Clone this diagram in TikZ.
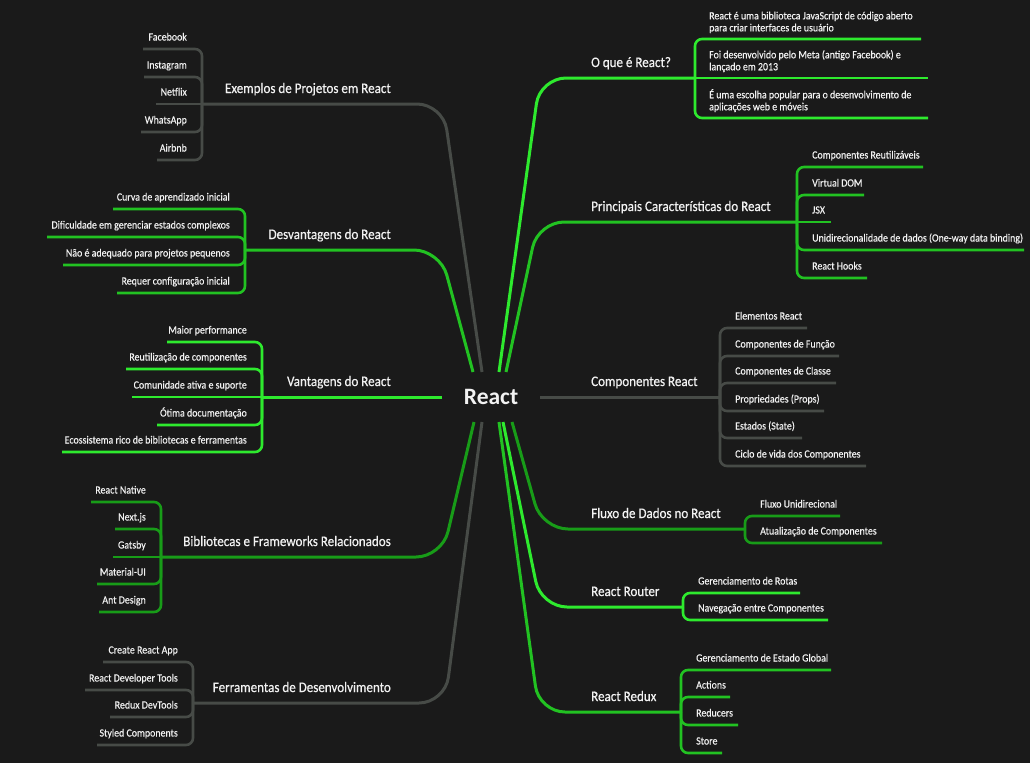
\documentclass[tikz,border=0pt]{standalone}
\usepackage{fontspec}
\setmainfont{Carlito}
\newfontfamily\leaffont[FakeStretch=0.9,FakeBold=0.4]{Carlito}
\newfontfamily\brfont[FakeStretch=0.9,FakeBold=0.5]{Carlito}
\definecolor{bg}{HTML}{1A1A1A}
\definecolor{gbright}{HTML}{2EEA2E}
\definecolor{gmed}{HTML}{22C222}
\definecolor{gdark}{HTML}{189C18}
\definecolor{gline}{HTML}{474B47}
\definecolor{txt}{HTML}{F2F2F2}
\tikzset{
  leaf/.style={text=txt, font=\leaffont\fontsize{11}{12}\selectfont, inner sep=0pt},
  branchtext/.style={text=txt, font=\brfont\fontsize{14.5}{16}\selectfont, inner sep=0pt},
  roottext/.style={text=txt, font=\bfseries\fontsize{23.5}{26}\selectfont, inner sep=0pt},
  mainedge/.style={line width=3pt, rounded corners=26pt},
  leafedge/.style={line width=2.6pt, rounded corners=7pt},
}
% #1 colour, #2 bracket name, #3 bx, #4 by, #5 leaf name, #6 uy, #7 end x, #8 text
\newcommand\RLeaf[8]{%
  \node[leaf,anchor=base west] (#5) at (#3+15,#6-8.5) {#8};
  \coordinate (#5-end) at (#7,#6);
  \ifdim #4pt=#6pt \draw[leafedge,#1] (#2) -- (#5-end);
  \else \draw[leafedge,#1] (#2) |- (#5-end); \fi
}
\newcommand\LLeaf[8]{%
  \node[leaf,anchor=base east] (#5) at (#3-15,#6-8.5) {#8};
  \coordinate (#5-end) at (#7,#6);
  \ifdim #4pt=#6pt \draw[leafedge,#1] (#2) -- (#5-end);
  \else \draw[leafedge,#1] (#2) |- (#5-end); \fi
}
\begin{document}
\begin{tikzpicture}[x=1pt,y=-1pt]
\fill[bg] (0,0) rectangle (1030,763);
\useasboundingbox (0,0) rectangle (1030,763);

\node[roottext] (root) at (491,397) {React};

% ---- main branch coordinates
\coordinate (sA) at (499,372); \coordinate (vA) at (540,78);  \coordinate (bA) at (695,78);
\coordinate (sB) at (506,372); \coordinate (vB) at (538,222); \coordinate (bB) at (797,222);
\coordinate (sC) at (540,397); \coordinate (bC) at (720,397);
\coordinate (sD) at (512,422); \coordinate (vD) at (542,529); \coordinate (bD) at (745,529);
\coordinate (sE) at (503,422); \coordinate (vE) at (541,607); \coordinate (bE) at (683,607);
\coordinate (sF) at (499,422); \coordinate (vF) at (539,712); \coordinate (bF) at (681,712);
\coordinate (sG) at (482,372); \coordinate (vG) at (443,104); \coordinate (bG) at (202,104);
\coordinate (sH) at (473,372); \coordinate (vH) at (440,250); \coordinate (bH) at (245,250);
\coordinate (sI) at (442,397); \coordinate (bI) at (262,397);
\coordinate (sJ) at (474,422); \coordinate (vJ) at (442,557); \coordinate (bJ) at (161,557);
\coordinate (sK) at (482,422); \coordinate (vK) at (445,703); \coordinate (bK) at (193,703);

\draw[mainedge,gbright] (sA) -- (vA) -- (bA);
\draw[mainedge,gmed]    (sB) -- (vB) -- (bB);
\draw[mainedge,gline]   (sC) -- (bC);
\draw[mainedge,gdark]   (sD) -- (vD) -- (bD);
\draw[mainedge,gbright] (sE) -- (vE) -- (bE);
\draw[mainedge,gmed]    (sF) -- (vF) -- (bF);
\draw[mainedge,gline]   (sG) -- (vG) -- (bG);
\draw[mainedge,gmed]    (sH) -- (vH) -- (bH);
\draw[mainedge,gbright] (sI) -- (bI);
\draw[mainedge,gdark]   (sJ) -- (vJ) -- (bJ);
\draw[mainedge,gline]   (sK) -- (vK) -- (bK);

% ---- main branch labels
\node[branchtext,anchor=base west] (A) at (591,67) {O que é React?};
\node[branchtext,anchor=base west] (B) at (591,211) {Principais Características do React};
\node[branchtext,anchor=base west] (C) at (591,386) {Componentes React};
\node[branchtext,anchor=base west] (D) at (591,518) {Fluxo de Dados no React};
\node[branchtext,anchor=base west] (E) at (591,596) {React Router};
\node[branchtext,anchor=base west] (F) at (591,701) {React Redux};
\node[branchtext,anchor=base east] (G) at (391,93) {Exemplos de Projetos em React};
\node[branchtext,anchor=base east] (H) at (391,239) {Desvantagens do React};
\node[branchtext,anchor=base east] (I) at (391,386) {Vantagens do React};
\node[branchtext,anchor=base east] (J) at (391,546) {Bibliotecas e Frameworks Relacionados};
\node[branchtext,anchor=base east] (K) at (391,692) {Ferramentas de Desenvolvimento};

% ---- A: O que é React?
\node[leaf,anchor=south west,align=left] (a1) at (709,33.3) {React é uma biblioteca JavaScript de código aberto\\para criar interfaces de usuário};
\coordinate (a1-end) at (921,39);
\draw[leafedge,gbright] (bA) |- (a1-end);
\node[leaf,anchor=south west,align=left] (a2) at (709,72.3) {Foi desenvolvido pelo Meta (antigo Facebook) e\\lançado em 2013};
\coordinate (a2-end) at (928,78);
\draw[leafedge,gbright] (bA) -- (a2-end);
\node[leaf,anchor=south west,align=left] (a3) at (709,112.3) {É uma escolha popular para o desenvolvimento de\\aplicações web e móveis};
\coordinate (a3-end) at (928,118);
\draw[leafedge,gbright] (bA) |- (a3-end);

% ---- B
\RLeaf{gmed}{bB}{797}{222}{b1}{167}{923}{Componentes Reutilizáveis}
\RLeaf{gmed}{bB}{797}{222}{b2}{195}{864}{Virtual DOM}
\RLeaf{gmed}{bB}{797}{222}{b3}{222}{831}{JSX}
\RLeaf{gmed}{bB}{797}{222}{b4}{250}{1024}{Unidirecionalidade de dados (One-way data binding)}
\RLeaf{gmed}{bB}{797}{222}{b5}{278}{867}{React Hooks}

% ---- C
\RLeaf{gline}{bC}{720}{397}{c1}{328}{807}{Elementos React}
\RLeaf{gline}{bC}{720}{397}{c2}{356}{839}{Componentes de Função}
\RLeaf{gline}{bC}{720}{397}{c3}{383}{836}{Componentes de Classe}
\RLeaf{gline}{bC}{720}{397}{c4}{411}{824}{Propriedades (Props)}
\RLeaf{gline}{bC}{720}{397}{c5}{438}{802}{Estados (State)}
\RLeaf{gline}{bC}{720}{397}{c6}{466}{866}{Ciclo de vida dos Componentes}

% ---- D
\RLeaf{gdark}{bD}{745}{529}{d1}{516}{840}{Fluxo Unidirecional}
\RLeaf{gdark}{bD}{745}{529}{d2}{543}{882}{Atualização de Componentes}

% ---- E
\RLeaf{gbright}{bE}{683}{607}{e1}{593}{800}{Gerenciamento de Rotas}
\RLeaf{gbright}{bE}{683}{607}{e2}{620}{828}{Navegação entre Componentes}

% ---- F
\RLeaf{gmed}{bF}{681}{712}{f1}{670}{831}{Gerenciamento de Estado Global}
\RLeaf{gmed}{bF}{681}{712}{f2}{697}{730}{Actions}
\RLeaf{gmed}{bF}{681}{712}{f3}{725}{738}{Reducers}
\RLeaf{gmed}{bF}{681}{712}{f4}{753}{722}{Store}

% ---- G
\LLeaf{gline}{bG}{202}{104}{g1}{49}{143}{Facebook}
\LLeaf{gline}{bG}{202}{104}{g2}{77}{144}{Instagram}
\LLeaf{gline}{bG}{202}{104}{g3}{104}{156}{Netflix}
\LLeaf{gline}{bG}{202}{104}{g4}{132}{141}{WhatsApp}
\LLeaf{gline}{bG}{202}{104}{g5}{160}{157}{Airbnb}

% ---- H
\LLeaf{gmed}{bH}{245}{250}{h1}{209}{113}{Curva de aprendizado inicial}
\LLeaf{gmed}{bH}{245}{250}{h2}{237}{47}{Dificuldade em gerenciar estados complexos}
\LLeaf{gmed}{bH}{245}{250}{h3}{265}{63}{Não é adequado para projetos pequenos}
\LLeaf{gmed}{bH}{245}{250}{h4}{293}{117}{Requer configuração inicial}

% ---- I
\LLeaf{gbright}{bI}{262}{397}{i1}{342}{167}{Maior performance}
\LLeaf{gbright}{bI}{262}{397}{i2}{369}{126}{Reutilização de componentes}
\LLeaf{gbright}{bI}{262}{397}{i3}{397}{132}{Comunidade ativa e suporte}
\LLeaf{gbright}{bI}{262}{397}{i4}{425}{157}{Ótima documentação}
\LLeaf{gbright}{bI}{262}{397}{i5}{452}{62}{Ecossistema rico de bibliotecas e ferramentas}

% ---- J
\LLeaf{gdark}{bJ}{161}{557}{j1}{502}{91}{React Native}
\LLeaf{gdark}{bJ}{161}{557}{j2}{529}{115}{Next.js}
\LLeaf{gdark}{bJ}{161}{557}{j3}{557}{113}{Gatsby}
\LLeaf{gdark}{bJ}{161}{557}{j4}{584}{97}{Material-UI}
\LLeaf{gdark}{bJ}{161}{557}{j5}{612}{99}{Ant Design}

% ---- K
\LLeaf{gline}{bK}{193}{703}{k1}{662}{103}{Create React App}
\LLeaf{gline}{bK}{193}{703}{k2}{690}{85}{React Developer Tools}
\LLeaf{gline}{bK}{193}{703}{k3}{717}{110}{Redux DevTools}
\LLeaf{gline}{bK}{193}{703}{k4}{745}{97}{Styled Components}
\end{tikzpicture}
\end{document}
